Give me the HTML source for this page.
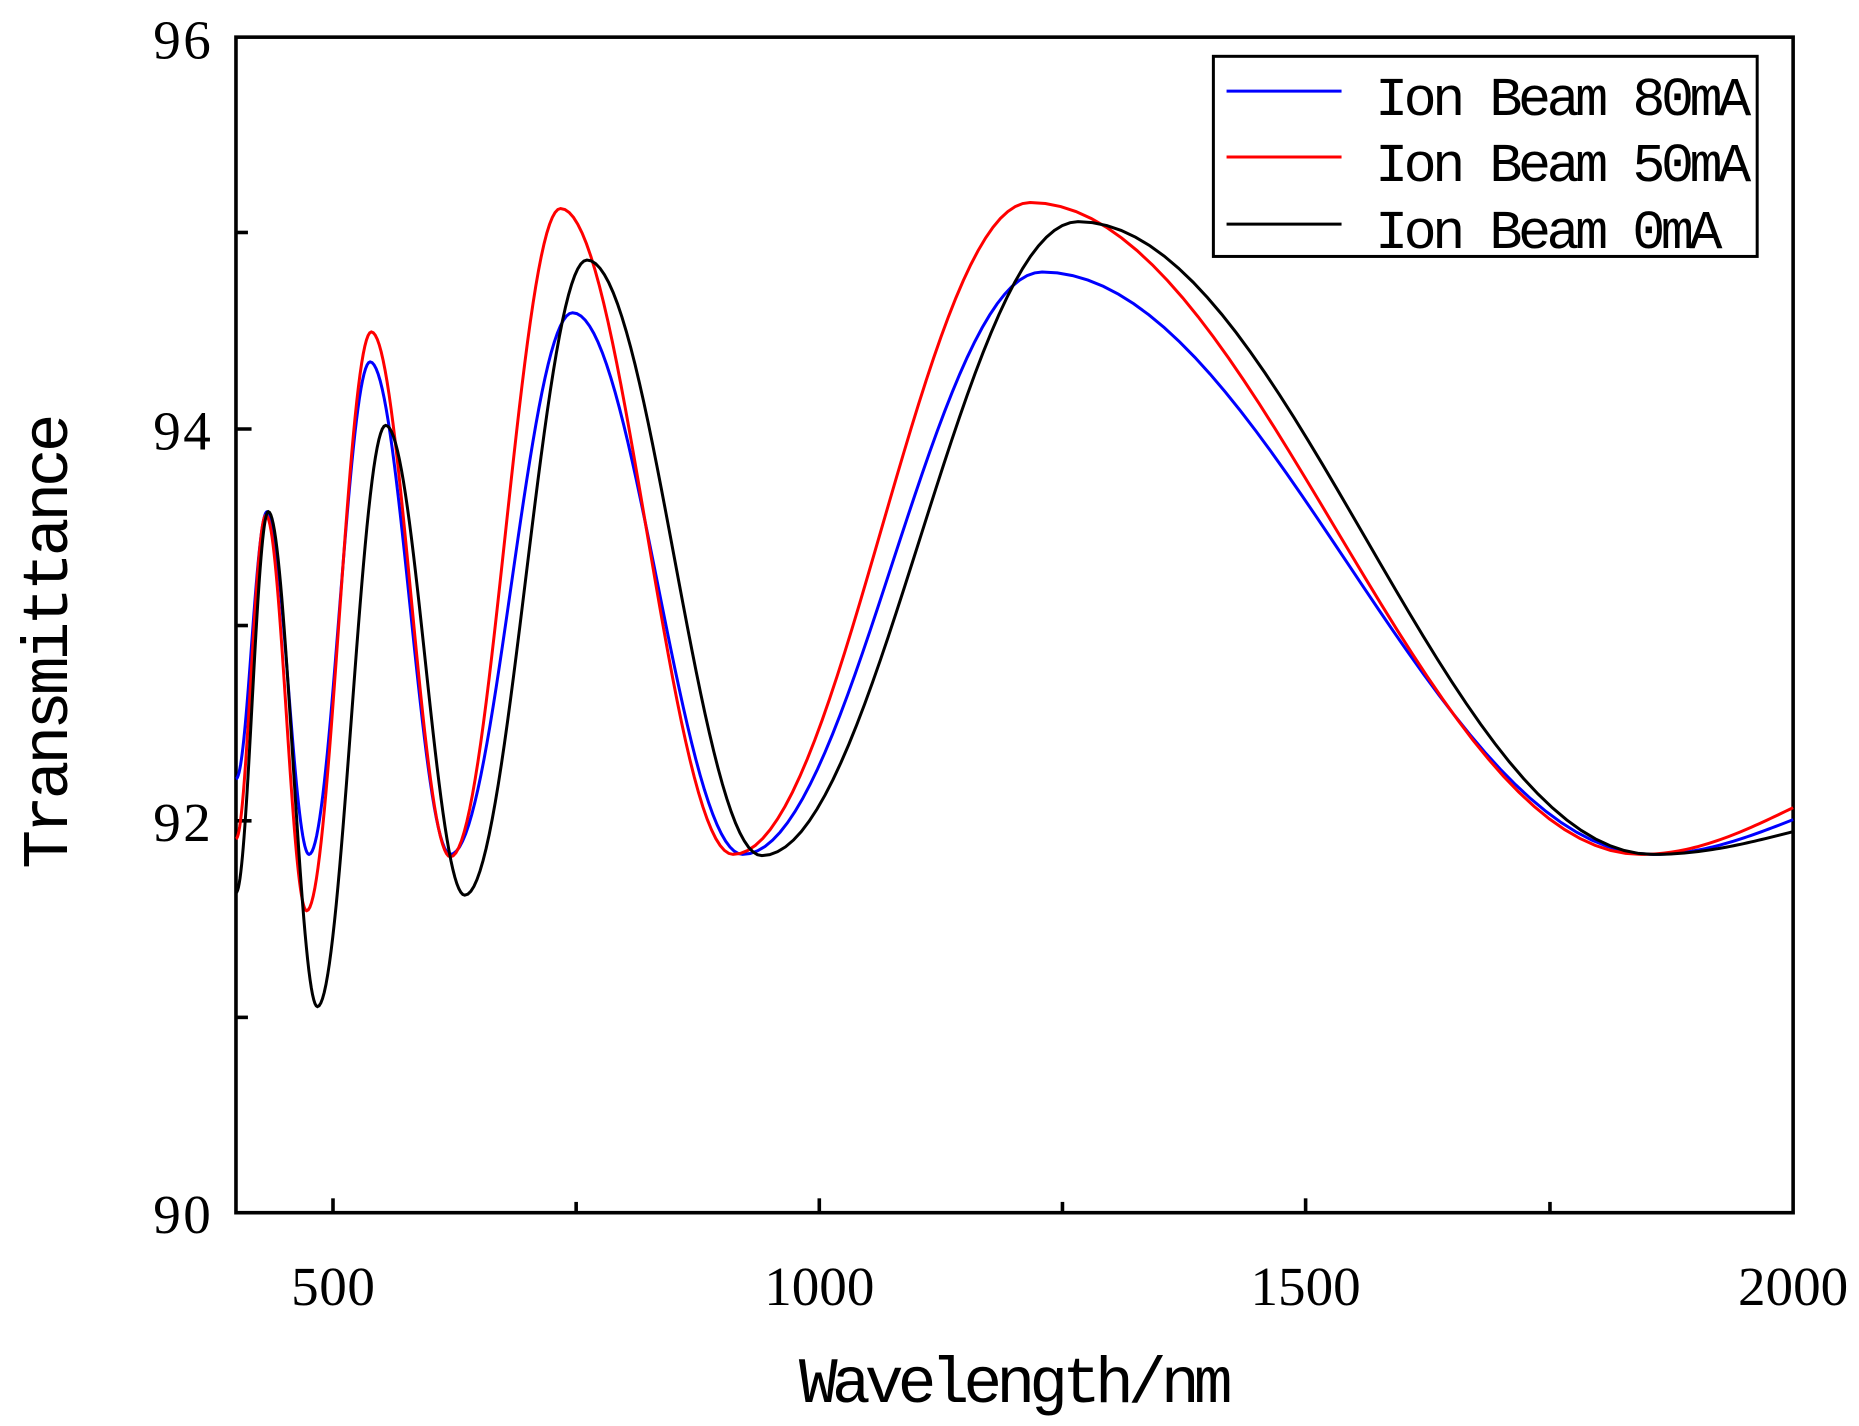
<!DOCTYPE html>
<html><head><style>html,body{margin:0;padding:0;background:#fff}svg{display:block}</style></head>
<body>
<svg id="s" width="1859" height="1426" viewBox="0 0 1552 1190" preserveAspectRatio="none" xmlns="http://www.w3.org/2000/svg">
<rect x="197" y="31" width="1300" height="981" fill="none" stroke="#000" stroke-width="3"/>
<g stroke="#000" stroke-width="3">
<line x1="197" y1="849" x2="207" y2="849"/><line x1="197" y1="685" x2="210" y2="685"/>
<line x1="197" y1="522" x2="207" y2="522"/><line x1="197" y1="358" x2="210" y2="358"/>
<line x1="197" y1="194" x2="207" y2="194"/>
<line x1="278" y1="1012" x2="278" y2="1000"/><line x1="481" y1="1012" x2="481" y2="1003"/>
<line x1="684" y1="1012" x2="684" y2="1000"/><line x1="887" y1="1012" x2="887" y2="1003"/>
<line x1="1090" y1="1012" x2="1090" y2="1000"/><line x1="1294" y1="1012" x2="1294" y2="1003"/>
</g>
<g font-family="Liberation Serif, serif" font-size="46" fill="#000">
<text x="176" y="49" text-anchor="end" textLength="48">96</text>
<text x="176" y="375" text-anchor="end" textLength="48">94</text>
<text x="176" y="702" text-anchor="end" textLength="48">92</text>
<text x="176" y="1029" text-anchor="end" textLength="48">90</text>
<text x="278" y="1089" text-anchor="middle" textLength="70">500</text>
<text x="684" y="1089" text-anchor="middle" textLength="92">1000</text>
<text x="1090" y="1089" text-anchor="middle" textLength="92">1500</text>
<text x="1497" y="1089" text-anchor="middle" textLength="92">2000</text>
</g>
<text x="848" y="1170" font-family="Liberation Mono, monospace" font-size="54" text-anchor="middle" textLength="362">Wavelength/nm</text>
<text transform="translate(56,535) rotate(-90)" font-family="Liberation Mono, monospace" font-size="54" text-anchor="middle" textLength="380">Transmittance</text>
<g id="curves" fill="none" stroke-width="2.5"></g>
<rect x="1013" y="47" width="454" height="167" fill="#fff" stroke="#000" stroke-width="2.5"/>
<line x1="1024" y1="76" x2="1120" y2="76" stroke="#0000ff" stroke-width="2.5"/>
<line x1="1024" y1="131" x2="1120" y2="131" stroke="#ff0000" stroke-width="2.5"/>
<line x1="1024" y1="187" x2="1120" y2="187" stroke="#000" stroke-width="2.5"/>
<g font-family="Liberation Mono, monospace" font-size="46" fill="#000">
<text x="1148" y="96" textLength="314">Ion Beam 80mA</text>
<text x="1148" y="151" textLength="314">Ion Beam 50mA</text>
<text x="1148" y="207" textLength="290">Ion Beam 0mA</text>
</g>
</svg>
<script>
var S=[["#0000ff",[[197,650],[223,427],[258,713],[309,302],[376,713],[478,261],[620,713],[870,227],[1380,713],[1497,684]]],
["#ff0000",[[197,700],[222,430],[256,760],[310,277],[376,715],[468,174],[612,713],[860,169],[1370,713],[1497,674]]],
["#000000",[[197,745],[224,427],[265,840],[322,355],[388,747],[490,217],[636,714],[900,185],[1380,713],[1497,694]]]];
var g=document.getElementById("curves"),ns="http://www.w3.org/2000/svg";
S.forEach(function(s){var p=s[1],d="M"+p[0][0]+" "+p[0][1];
for(var i=0;i<p.length-1;i++){var a=p[i],b=p[i+1];var last=(i==p.length-2);
 for(var k=1;k<=40;k++){var t=k/40;var x=a[0]+(b[0]-a[0])*t;
  var w=last?(1-Math.cos(t*Math.PI/2)):(1-Math.cos(t*Math.PI))/2;
  var y=a[1]+(b[1]-a[1])*w;d+=" L"+x.toFixed(2)+" "+y.toFixed(2);}}
 var e=document.createElementNS(ns,"path");e.setAttribute("d",d);e.setAttribute("stroke",s[0]);g.appendChild(e);});
</script>
</body></html>
